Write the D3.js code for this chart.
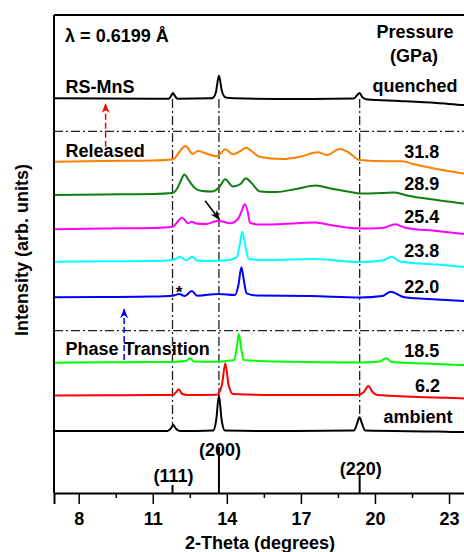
<!DOCTYPE html>
<html>
<head>
<meta charset="utf-8">
<script src="https://cdn.jsdelivr.net/npm/d3@7"></script>
<style>
  body { margin: 0; background: #fff; }
  svg text { font-family: 'Liberation Sans', Arial, sans-serif; font-weight: bold; fill: #000; }
</style>
</head>
<body>
<svg id="chart"></svg>
<script>
// 2-theta (deg), intensity (arb. units, offset stacked)
const quenched = [[7.0,394.7],[11.0,394.3],[11.65,394.3],[11.75,397.5],[11.82,400],[11.9,397],[12.0,394.3],
  [13.4,394.7],[13.55,400],[13.68,417.3],[13.8,402],[13.95,395.5],[14.3,394.7],[17,394],[19.15,394.5],
  [19.28,398],[19.38,400],[19.5,395.5],[19.7,393.5],[21,392],[22.5,390],[23.6,388],[24,387.5]];
const p318 = [[7.0,331.3],[9.0,332],[11.0,332.5],[11.8,333.5],[12.05,340],[12.2,345],[12.33,347],[12.45,344],
  [12.6,339],[12.83,342],[13.1,340],[13.59,336.7],[13.8,341],[13.93,343.7],[14.25,338.7],[14.55,342],
  [14.78,345.3],[15.0,342],[15.34,336],[16.27,334],[17.0,336.5],[17.69,340.7],[18.04,338],[18.58,344],
  [18.9,341],[19.39,333],[20.5,331.7],[21.13,331.7],[21.54,329],[22.5,324],[23.6,319.5],[24,318.5]];
const p289 = [[7.0,298],[9.0,298.5],[11.0,299],[11.8,300],[12.0,305],[12.15,313],[12.28,318.5],[12.45,313],
  [12.7,305],[13.0,302],[13.4,301.5],[13.7,306],[13.93,313.7],[14.25,306.5],[14.55,309],[14.77,314.7],
  [15.0,310],[15.34,301.5],[16.0,301],[16.8,304],[17.6,307.5],[18.2,304.5],[19.0,301],[19.39,299.5],
  [20.3,300],[20.8,300.5],[21.3,297.5],[22.5,293],[23.6,289.5],[24,288.5]];
const p254 = [[7.0,263.7],[9.0,264.5],[11.0,265],[11.8,266.3],[12.0,271],[12.17,275.3],[12.3,273],[12.42,269.7],
  [12.58,271.3],[12.75,269.5],[13.18,269],[13.5,271.5],[13.65,272.3],[13.9,271],[14.13,269.7],[14.45,274],
  [14.6,282],[14.72,288.7],[14.84,282],[14.94,270.3],[15.3,268.5],[16.29,269],[17.0,270],[17.58,270.5],
  [18.3,267.5],[19.39,264.5],[20.3,265],[20.82,268.7],[21.23,265.3],[22.5,262],[23.6,259],[24,258]];
const p238 = [[7.0,231.3],[9.0,231.7],[11.0,232],[11.8,233],[11.95,234.5],[12.1,236.3],[12.35,232.7],[12.6,236.3],
  [12.8,232.5],[13.2,232],[14.1,233],[14.4,236],[14.52,248],[14.63,261.3],[14.74,248],[14.9,233.7],
  [15.5,233],[17.5,234],[19.39,231],[20.3,232.5],[20.68,236.3],[21.0,231.5],[22.5,228.5],[23.6,226],[24,225]];
const p220 = [[7.0,195.7],[9.0,196],[11.0,196.5],[11.8,197.3],[12.07,199],[12.3,197],[12.58,202],[12.8,197.3],
  [13.65,199],[14.33,198],[14.47,208],[14.59,225.7],[14.7,211],[14.8,199.7],[15.2,197.5],[17.4,197],
  [19.39,195.5],[20.3,197],[20.63,201.3],[21.2,195.7],[22.5,193.5],[23.6,192],[24,191.5]];
const p185 = [[7.0,130.3],[9.0,130.7],[11.0,131],[11.8,131.3],[12.35,132],[12.51,134.7],[12.67,131.5],[13.5,131.3],
  [14.3,133],[14.4,145],[14.49,159],[14.58,145],[14.68,133],[16,131.5],[19.39,130.5],[20.2,131.5],
  [20.45,134.7],[20.69,131],[22.5,129],[23.6,128],[24,127.5]];
const p62 = [[7.0,97.5],[9.0,97.7],[11.0,98],[11.8,98],[11.95,101],[12.06,103.7],[12.17,99.5],[12.4,98],
  [13.6,98.3],[13.8,108],[13.94,129.7],[14.07,108],[14.25,99],[16,98],[19.3,98],[19.55,101],[19.73,107],
  [19.9,101],[20.1,98],[22.5,95.5],[23.6,94.5],[24,94]];
const ambient = [[7.0,62],[11.6,62],[11.73,64.5],[11.83,68],[11.93,64.5],[12.1,62],[13.45,62.5],[13.57,73],
  [13.68,97.5],[13.79,73],[13.92,62.5],[16,62],[19.15,62.5],[19.27,69],[19.37,75.7],[19.48,69],[19.6,62.5],
  [22.5,61.5],[23.6,61],[24,61]];

const seriesData = [quenched, p318, p289, p254, p238, p220, p185, p62, ambient];
const seriesColors = ['#000000', '#ff8000', '#0f7f0f', '#ff00ff', '#00ffff', '#0000ff', '#00ff00', '#ff0000', '#000000'];
const pressureLabels = ['quenched', '31.8', '28.9', '25.4', '23.8', '22.0', '18.5', '6.2', 'ambient'];
// label anchor (2-theta, intensity) for each pressure label
const pressureLabelX = [21.62, 21.9, 21.9, 21.9, 21.9, 21.9, 21.9, 22.13, 21.74];
const pressureLabelY = [401.3, 335.3, 303, 270.3, 235.7, 200.3, 135.7, 101.3, 69.7];

// reference rock-salt MnS reflections
const refHkl = ['(111)', '(200)', '(220)'];
const refPos = [11.8, 13.68, 19.38];
const refInt = [8, 46, 18];
const refTop = [68, 97.5, 75.7];   // where guide lines meet the ambient pattern

const majorTicks = [8, 11, 14, 17, 20, 23];
const minorTicks = [9.5, 12.5, 15.5, 18.5, 21.5];
const dividers = [361.7, 162.3];

class XrdChart {
  constructor(_config) {
    this.config = {
      parentElement: _config.parentElement,
      width: _config.width || 464,
      height: _config.height || 552,
      margin: { left: 54, top: 15, bottom: 59 }
    };
    this.init();
  }

  init() {
    let vis = this;
    const m = vis.config.margin;

    vis.svg = d3.select(vis.config.parentElement)
      .attr('width', vis.config.width)
      .attr('height', vis.config.height);

    vis.x = d3.scaleLinear().domain([7, 24]).range([m.left, m.left + 17 * 24.69]);
    vis.y = d3.scaleLinear().domain([0, 478]).range([vis.config.height - m.bottom, m.top]);

    const defs = vis.svg.append('defs');
    [['arrRed', '#ff0000'], ['arrBlue', '#0000ff'], ['arrBlack', '#000']].forEach(d => {
      defs.append('marker')
        .attr('id', d[0])
        .attr('viewBox', '0 0 10 10')
        .attr('refX', 9).attr('refY', 5)
        .attr('markerWidth', 10).attr('markerHeight', 10)
        .attr('markerUnits', 'userSpaceOnUse')
        .attr('orient', 'auto')
        .append('path')
        .attr('d', 'M0,1 L10,5 L0,9 L3,5 Z')
        .style('fill', d[1]);
    });
  }

  render() {
    let vis = this;
    const x = vis.x, y = vis.y;
    const dashDot = '9,3,2,3';

    // guide lines
    vis.svg.selectAll('.divider').data(dividers).join('line')
      .attr('class', 'divider')
      .attr('x1', x(7)).attr('x2', x(24))
      .attr('y1', d => y(d)).attr('y2', d => y(d))
      .style('stroke', '#222').style('stroke-width', 1.3).style('stroke-dasharray', dashDot);

    vis.svg.selectAll('.guide').data(refPos).join('line')
      .attr('class', 'guide')
      .attr('x1', d => x(d)).attr('x2', d => x(d))
      .attr('y1', y(394)).attr('y2', (d, i) => y(refTop[i]))
      .style('stroke', '#222').style('stroke-width', 1.3).style('stroke-dasharray', dashDot);

    // patterns
    const line = d3.line().x(d => x(d[0])).y(d => y(d[1])).curve(d3.curveMonotoneX);
    vis.svg.selectAll('.pattern').data(seriesData).join('path')
      .attr('class', 'pattern')
      .attr('d', line)
      .style('fill', 'none')
      .style('stroke', (d, i) => seriesColors[i])
      .style('stroke-width', 2);

    // reference bars
    vis.svg.selectAll('.refbar').data(refPos).join('line')
      .attr('class', 'refbar')
      .attr('x1', d => x(d)).attr('x2', d => x(d))
      .attr('y1', y(0)).attr('y2', (d, i) => y(refInt[i]))
      .style('stroke', '#000').style('stroke-width', 2);
    const refLabelY = [11.3, 37.3, 18];
    vis.svg.selectAll('.reflabel').data(refHkl).join('text')
      .attr('class', 'reflabel')
      .attr('x', (d, i) => x(refPos[i]) + 1)
      .attr('y', (d, i) => y(refLabelY[i]))
      .attr('text-anchor', 'middle')
      .style('font-size', '18px')
      .text(d => d);

    // frame
    vis.svg.append('line')
      .attr('x1', x(7)).attr('x2', x(7)).attr('y1', y(0)).attr('y2', y(478))
      .style('stroke', '#000').style('stroke-width', 2);
    vis.svg.append('line')
      .attr('x1', x(7)).attr('x2', x(24)).attr('y1', y(478)).attr('y2', y(478))
      .style('stroke', '#000').style('stroke-width', 2);

    // x axis
    const xAxis = vis.svg.append('g')
      .attr('transform', `translate(0,${y(0)})`)
      .call(d3.axisBottom(x).tickValues(majorTicks).tickSize(11).tickPadding(8).tickFormat(d3.format('d')));
    xAxis.select('.domain').style('stroke-width', 2);
    xAxis.selectAll('.tick line').style('stroke-width', 1.5);
    xAxis.selectAll('text').style('font-size', '18px').style('font-family', "'Liberation Sans', Arial, sans-serif")
      .style('font-weight', 'bold');
    const minor = vis.svg.append('g')
      .attr('transform', `translate(0,${y(0)})`)
      .call(d3.axisBottom(x).tickValues(minorTicks).tickSize(5).tickFormat(''));
    minor.select('.domain').remove();
    minor.selectAll('.tick line').style('stroke-width', 1.5);

    vis.svg.append('text')
      .attr('x', 260).attr('y', 549)
      .attr('text-anchor', 'middle')
      .style('font-size', '18px')
      .text('2-Theta (degrees)');

    vis.svg.append('text')
      .attr('transform', 'translate(28,250) rotate(-90)')
      .attr('text-anchor', 'middle')
      .style('font-size', '18px')
      .text('Intensity (arb. units)');

    // annotations
    vis.svg.append('text').attr('x', x(7.45)).attr('y', y(451)).style('font-size', '18px').text('λ = 0.6199 Å');
    vis.svg.append('text').attr('x', x(21.62)).attr('y', y(454.7)).attr('text-anchor', 'middle')
      .style('font-size', '18px').text('Pressure');
    vis.svg.append('text').attr('x', x(21.58)).attr('y', y(431.3)).attr('text-anchor', 'middle')
      .style('font-size', '18px').text('(GPa)');

    vis.svg.selectAll('.plabel').data(pressureLabels).join('text')
      .attr('class', 'plabel')
      .attr('x', (d, i) => x(pressureLabelX[i]))
      .attr('y', (d, i) => y(pressureLabelY[i]))
      .attr('text-anchor', 'middle')
      .style('font-size', '18px')
      .text(d => d);

    const notes = [['RS-MnS', 400.3], ['Released', 336.3], ['Phase Transition', 138]];
    notes.forEach(n => {
      vis.svg.append('text').attr('x', x(7.47)).attr('y', y(n[1])).style('font-size', '18px').text(n[0]);
    });

    vis.svg.append('text').attr('x', x(12.07)).attr('y', y(195)).attr('text-anchor', 'middle')
      .style('font-size', '17px').text('*');

    // arrows
    vis.svg.append('line')
      .attr('x1', x(9.09)).attr('x2', x(9.09)).attr('y1', y(346.3)).attr('y2', y(389))
      .style('stroke', '#ff0000').style('stroke-width', 1.5).style('stroke-dasharray', '6,3')
      .attr('marker-end', 'url(#arrRed)');
    vis.svg.append('line')
      .attr('x1', x(9.84)).attr('x2', x(9.84)).attr('y1', y(133)).attr('y2', y(183.7))
      .style('stroke', '#0000ff').style('stroke-width', 1.5).style('stroke-dasharray', '6,3')
      .attr('marker-end', 'url(#arrBlue)');
    vis.svg.append('line')
      .attr('x1', x(13.12)).attr('x2', x(13.69)).attr('y1', y(292.3)).attr('y2', y(273.7))
      .style('stroke', '#000').style('stroke-width', 1.5)
      .attr('marker-end', 'url(#arrBlack)');
  }
}

const chart = new XrdChart({ parentElement: '#chart', width: 464, height: 552 });
chart.render();
</script>
</body>
</html>
